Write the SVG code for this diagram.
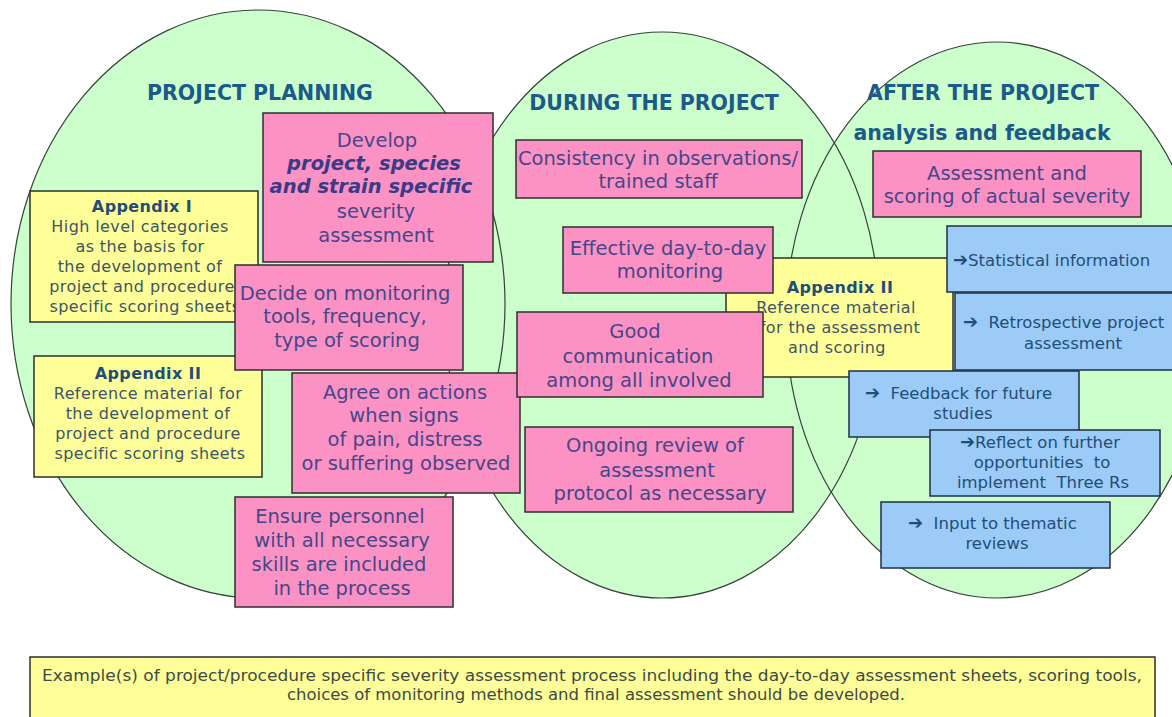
<svg xmlns="http://www.w3.org/2000/svg" width="1172" height="717" viewBox="0 0 1172 717">
  <style>
    .phase { fill: #ccffcc; }
    .phase-edge { fill: none; stroke: #34443a; stroke-width: 1.2; }
    .pink { fill: #fb92c3; stroke: #2e2e2e; stroke-width: 1.5; }
    .yellow { fill: #ffff99; stroke: #2e2e2e; stroke-width: 1.5; }
    .blue { fill: #9ccbf7; stroke: #1f2f45; stroke-width: 1.5; }
    text { font-family: "DejaVu Sans", Verdana, sans-serif; }
    .title { font-size: 20.5px; font-weight: bold; fill: #1b5a8a; text-anchor: middle; }
    .ptxt { font-size: 19.5px; fill: #46468a; text-anchor: middle; }
    .pbi { font-weight: bold; font-style: italic; fill: #3a3a86; }
    .yhead { font-size: 16px; font-weight: bold; fill: #1f4e79; text-anchor: middle; letter-spacing: 0.4px; }
    .ytxt { font-size: 16px; fill: #3d5566; text-anchor: middle; letter-spacing: 0.4px; }
    .btxt { font-size: 16.5px; fill: #1f4e79; }
    .arr { font-weight: bold; font-size: 18px; }
    .mid { text-anchor: middle; }
    .note { font-family: "DejaVu Sans Condensed", "DejaVu Sans", sans-serif; font-stretch: condensed; font-size: 15px; fill: #3f4a48; text-anchor: middle; }
  </style>

  <!-- three phase ellipses: fills first, then outlines so every edge stays visible -->
  <g id="phases">
    <ellipse class="phase" cx="258" cy="304" rx="247" ry="294"/>
    <ellipse class="phase" cx="662" cy="315" rx="217" ry="283"/>
    <ellipse class="phase" cx="997" cy="320" rx="211" ry="278"/>
    <ellipse class="phase-edge" cx="258" cy="304" rx="247" ry="294"/>
    <ellipse class="phase-edge" cx="662" cy="315" rx="217" ry="283"/>
    <ellipse class="phase-edge" cx="997" cy="320" rx="211" ry="278"/>
  </g>

  <g id="titles">
    <text class="title" x="260" y="100">PROJECT PLANNING</text>
    <text class="title" x="654" y="110">DURING THE PROJECT</text>
    <text class="title" x="983" y="100">AFTER THE PROJECT</text>
    <text class="title" x="982" y="140">analysis  and feedback</text>
  </g>

  <!-- connectors: none drawn -->
  <g id="connectors"/>

  <!-- planning phase -->
  <g id="appendix1">
    <rect class="yellow" x="30" y="191" width="228" height="131"/>
    <text class="yhead" x="142" y="212">Appendix  I</text>
    <text class="ytxt" x="140" y="232">High level categories</text>
    <text class="ytxt" x="140" y="252">as the basis for</text>
    <text class="ytxt" x="140" y="272">the development  of</text>
    <text class="ytxt" x="142" y="292">project and procedure</text>
    <text class="ytxt" x="145" y="312">specific scoring sheets</text>
  </g>

  <g id="develop">
    <rect class="pink" x="263" y="113" width="230" height="149"/>
    <text class="ptxt" x="377" y="147">Develop</text>
    <text class="ptxt pbi" x="374" y="170">project, species</text>
    <text class="ptxt pbi" x="371" y="193">and strain specific</text>
    <text class="ptxt" x="376" y="218">severity</text>
    <text class="ptxt" x="376" y="242">assessment</text>
  </g>

  <g id="appendix2-left">
    <rect class="yellow" x="34" y="356" width="228" height="121"/>
    <text class="yhead" x="148" y="379">Appendix  II</text>
    <text class="ytxt" x="148" y="399">Reference material  for</text>
    <text class="ytxt" x="148" y="419">the development  of</text>
    <text class="ytxt" x="148" y="439">project and procedure</text>
    <text class="ytxt" x="150" y="459">specific scoring sheets</text>
  </g>

  <g id="decide">
    <rect class="pink" x="235" y="265" width="228" height="105"/>
    <text class="ptxt" x="345" y="300">Decide on monitoring</text>
    <text class="ptxt" x="345" y="323">tools, frequency,</text>
    <text class="ptxt" x="347" y="347">type of scoring</text>
  </g>

  <g id="ensure">
    <rect class="pink" x="235" y="497" width="218" height="110"/>
    <text class="ptxt" x="340" y="523">Ensure personnel</text>
    <text class="ptxt" x="342" y="547">with all necessary</text>
    <text class="ptxt" x="339" y="571">skills are included</text>
    <text class="ptxt" x="342" y="595">in the process</text>
  </g>

  <g id="agree">
    <rect class="pink" x="292" y="373" width="228" height="120"/>
    <text class="ptxt" x="405" y="399">Agree on actions</text>
    <text class="ptxt" x="404" y="422">when signs</text>
    <text class="ptxt" x="405" y="446">of pain, distress</text>
    <text class="ptxt" x="406" y="470">or suffering observed</text>
  </g>

  <!-- during the project -->
  <g id="consistency">
    <rect class="pink" x="516" y="140" width="286" height="58"/>
    <text class="ptxt" x="658" y="165">Consistency in observations/</text>
    <text class="ptxt" x="658" y="188">trained staff</text>
  </g>

  <g id="appendix2-mid">
    <rect class="yellow" x="726" y="258" width="227" height="119"/>
    <text class="yhead" x="840" y="293">Appendix  II</text>
    <text class="ytxt" x="836" y="313">Reference material</text>
    <text class="ytxt" x="840" y="333">for the assessment</text>
    <text class="ytxt" x="837" y="353">and scoring</text>
  </g>

  <g id="effective">
    <rect class="pink" x="563" y="227" width="210" height="66"/>
    <text class="ptxt" x="668" y="255">Effective day-to-day</text>
    <text class="ptxt" x="670" y="278">monitoring</text>
  </g>

  <g id="communication">
    <rect class="pink" x="517" y="312" width="246" height="85"/>
    <text class="ptxt" x="635" y="338">Good</text>
    <text class="ptxt" x="638" y="363">communication</text>
    <text class="ptxt" x="639" y="387">among all involved</text>
  </g>

  <g id="review">
    <rect class="pink" x="525" y="427" width="268" height="85"/>
    <text class="ptxt" x="655" y="452">Ongoing review of</text>
    <text class="ptxt" x="657" y="477">assessment</text>
    <text class="ptxt" x="660" y="500">protocol as necessary</text>
  </g>

  <!-- after the project -->
  <g id="actual-severity">
    <rect class="pink" x="873" y="151" width="268" height="66"/>
    <text class="ptxt" x="1007" y="180">Assessment and</text>
    <text class="ptxt" x="1007" y="203">scoring of actual severity</text>
  </g>

  <g id="statistical">
    <rect class="blue" x="947" y="226" width="232" height="66"/>
    <text class="btxt" x="953" y="266"><tspan class="arr">➔</tspan>Statistical information</text>
  </g>

  <g id="retrospective">
    <rect class="blue" x="955" y="293" width="224" height="77"/>
    <text class="btxt" x="963" y="328" xml:space="preserve"><tspan class="arr">➔</tspan>  Retrospective project</text>
    <text class="btxt mid" x="1073" y="349">assessment</text>
  </g>

  <g id="feedback">
    <rect class="blue" x="849" y="371" width="230" height="66"/>
    <text class="btxt" x="865" y="399" xml:space="preserve"><tspan class="arr">➔</tspan>  Feedback for future</text>
    <text class="btxt mid" x="963" y="419">studies</text>
  </g>

  <g id="reflect">
    <rect class="blue" x="930" y="430" width="230" height="66"/>
    <text class="btxt mid" x="1040" y="448"><tspan class="arr">➔</tspan>Reflect on further</text>
    <text class="btxt mid" x="1042" y="468" xml:space="preserve">opportunities  to</text>
    <text class="btxt mid" x="1043" y="488" xml:space="preserve">implement  Three Rs</text>
  </g>

  <g id="thematic">
    <rect class="blue" x="881" y="502" width="229" height="66"/>
    <text class="btxt" x="908" y="529" xml:space="preserve"><tspan class="arr">➔</tspan>  Input to thematic</text>
    <text class="btxt mid" x="997" y="549">reviews</text>
  </g>

  <!-- footnote box -->
  <g id="examples">
    <rect class="yellow" x="30" y="657" width="1125" height="70"/>
    <text class="note" x="592" y="681" textLength="1100" lengthAdjust="spacingAndGlyphs">Example(s)  of project/procedure  specific severity assessment process including  the day-to-day assessment sheets, scoring tools,</text>
    <text class="note" x="596" y="700" textLength="618" lengthAdjust="spacingAndGlyphs">choices of monitoring  methods  and final assessment should be developed.</text>
  </g>
</svg>
